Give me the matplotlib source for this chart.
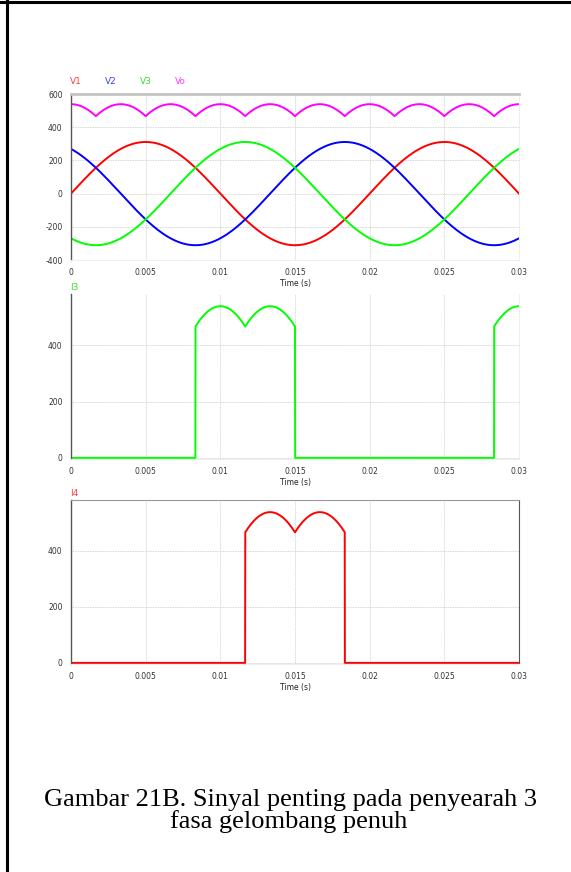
import matplotlib
matplotlib.use('Agg')
import matplotlib.pyplot as plt
from matplotlib.lines import Line2D
import numpy as np

plt.rcParams['axes.unicode_minus'] = False

# parameter sinyal
amp_v = 311.0          # amplitudo tegangan fasa (V)
freq = 50.0            # frekuensi (Hz)
phase_deg = [0.0, 120.0, -120.0]   # V1, V2, V3
load_r = 1.0           # beban resistif (ohm)
t_end = 0.03

x_ticks = [0, 0.005, 0.01, 0.015, 0.02, 0.025, 0.03]
x_ticklabels = ['0', '0.005', '0.01', '0.015', '0.02', '0.025', '0.03']
v_ticks = [-400, -200, 0, 200, 400, 600]
i_ticks = [0, 200, 400]
v_names = ['V1', 'V2', 'V3', 'Vo']
v_colors = ['#ff0000', '#0000ff', '#00ff00', '#ff00ff']
label_colors = ['#ff4040', '#4040ff', '#30e030', '#ff40ff']

caption1 = 'Gambar 21B. Sinyal penting pada penyearah 3'
caption2 = 'fasa gelombang penuh'

# simulasi penyearah 3 fasa gelombang penuh
t = np.linspace(0, t_end, 3001)
w = 2 * np.pi * freq
v1, v2, v3 = [amp_v * np.sin(w * t + np.deg2rad(p)) for p in phase_deg]
vs = np.vstack([v1, v2, v3])
vo = vs.max(axis=0) - vs.min(axis=0)
i3 = np.where(vs.argmax(axis=0) == 2, vo / load_r, 0.0)
i4 = np.where(vs.argmin(axis=0) == 0, vo / load_r, 0.0)

W, H = 571, 872
fig = plt.figure(figsize=(W / 100, H / 100), dpi=100)
fig.patch.set_facecolor('white')

tick_col = '#333333'
grid_kw = dict(color='#c8c8c8', linestyle=(0, (1, 1)), linewidth=0.6)


def make_axes(top_px, bot_px):
    ax = fig.add_axes([71 / W, 1 - bot_px / H, 448 / W, (bot_px - top_px) / H])
    ax.set_xlim(0, t_end)
    ax.set_xticks(x_ticks)
    ax.set_xticklabels(x_ticklabels)
    ax.tick_params(length=0, labelsize=5.5, colors=tick_col, pad=6)
    ax.grid(True, **grid_kw)
    ax.set_axisbelow(True)
    ax.spines['left'].set_color('#555555')
    ax.spines['left'].set_linewidth(1.0)
    ax.spines['bottom'].set_color('#eeeeee')
    ax.spines['right'].set_color('#eeeeee')
    ax.set_xlabel('Time (s)', fontsize=5.5, color='#222222', labelpad=1)
    return ax


# plot 1: tegangan
ax1 = make_axes(94, 260)
ax1.set_ylim(-400, 600)
ax1.set_yticks(v_ticks)
for y, c in zip([v1, v2, v3, vo], v_colors):
    ax1.plot(t, y, color=c, linewidth=1.4)
ax1.spines['top'].set_color('#c4c4c4')
ax1.spines['top'].set_linewidth(2.0)
for k, (name, c) in enumerate(zip(v_names, label_colors)):
    fig.text((70 + 35 * k) / W, 1 - 82 / H, name, color=c, fontsize=6.5,
             va='center', ha='left')

# plot 2: arus I3
ax2 = make_axes(294, 459)
ax2.set_ylim(-4, 582)
ax2.set_yticks(i_ticks)
ax2.plot(t, i3, color='#00ff00', linewidth=1.4)
ax2.spines['top'].set_visible(False)
fig.text(70 / W, 1 - 288 / H, 'I3', color='#30e030', fontsize=6.5,
         va='center', ha='left')

# plot 3: arus I4
ax3 = make_axes(500, 664)
ax3.set_ylim(-4, 582)
ax3.set_yticks(i_ticks)
ax3.plot(t, i4, color='#ff0000', linewidth=1.4)
ax3.spines['top'].set_color('#999999')
ax3.spines['right'].set_color('#555555')
fig.text(70 / W, 1 - 493 / H, 'I4', color='#ff4040', fontsize=6.5,
         va='center', ha='left')

# keterangan gambar
fig.text(290 / W, 1 - 806 / H, caption1, family='Liberation Serif',
         fontsize=19, ha='center', va='baseline')
fig.text(289 / W, 1 - 828 / H, caption2, family='Liberation Serif',
         fontsize=19, ha='center', va='baseline')

# bingkai halaman
fig.add_artist(Line2D([6.5 / W, 6.5 / W], [0, 1], color='black', linewidth=2.2))
fig.add_artist(Line2D([0, 1], [1 - 2 / H, 1 - 2 / H], color='black', linewidth=2.2))

fig.savefig('out.png', dpi=100)
